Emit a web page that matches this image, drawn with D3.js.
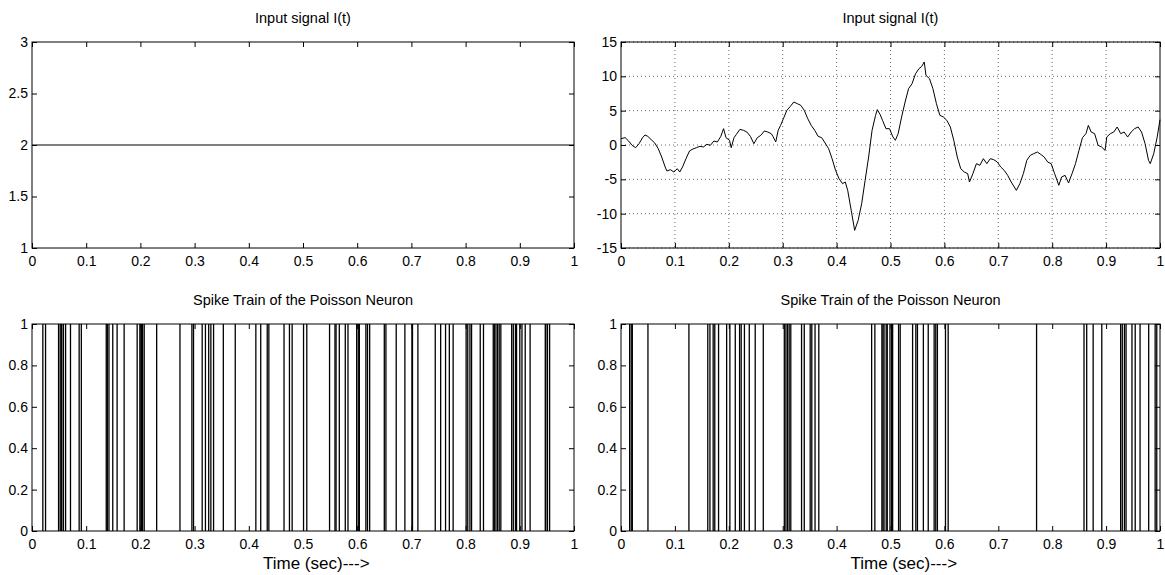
<!DOCTYPE html>
<html><head><meta charset="utf-8">
<script src="https://cdn.jsdelivr.net/npm/d3@7"></script>
<style>
html,body{margin:0;padding:0;background:#fff;}
svg{display:block;}
text{font-family:"Liberation Sans",Arial,Helvetica,sans-serif;fill:#000;}
</style></head>
<body>
<svg id="chart" width="1165" height="575"></svg>
<script>
// ---- data ----
const xTicks = [0,0.1,0.2,0.3,0.4,0.5,0.6,0.7,0.8,0.9,1];
const xTickLabels = ["0","0.1","0.2","0.3","0.4","0.5","0.6","0.7","0.8","0.9","1"];
const constYTicks = [1,1.5,2,2.5,3];
const constYTickLabels = ["1","1.5","2","2.5","3"];
const sigYTicks = [-15,-10,-5,0,5,10,15];
const sigYTickLabels = ["-15","-10","-5","0","5","10","15"];
const spikeYTicks = [0,0.2,0.4,0.6,0.8,1];
const spikeYTickLabels = ["0","0.2","0.4","0.6","0.8","1"];

const constT = [0, 1];
const constV = [2, 2];

const signalT = [0,0.0077,0.0142,0.0206,0.0271,0.0335,0.040,0.0445,0.0497,0.0561,0.0626,0.069,0.0755,0.0819,0.0852,0.0916,0.0981,0.1045,0.109,0.1142,0.1206,0.1271,0.1335,0.140,0.1465,0.1529,0.1594,0.1658,0.1723,0.1787,0.1852,0.1903,0.1948,0.2013,0.2045,0.2097,0.2142,0.2206,0.2271,0.2335,0.240,0.2465,0.2529,0.2594,0.2658,0.2723,0.2787,0.2819,0.2871,0.2916,0.2961,0.3013,0.3077,0.3142,0.3206,0.3271,0.3335,0.340,0.3465,0.3529,0.3594,0.3658,0.3723,0.3787,0.3852,0.3916,0.3981,0.4045,0.411,0.4161,0.4206,0.4271,0.4335,0.44,0.4465,0.4529,0.4594,0.4658,0.4723,0.4755,0.4806,0.4852,0.4916,0.4981,0.5045,0.509,0.5142,0.5206,0.5271,0.5335,0.540,0.5465,0.5529,0.5581,0.5626,0.5658,0.5723,0.5787,0.5852,0.5916,0.5981,0.6045,0.611,0.6174,0.6239,0.6303,0.6368,0.6432,0.6465,0.6529,0.6594,0.6658,0.6723,0.6787,0.6852,0.6916,0.6981,0.7045,0.711,0.7174,0.7239,0.7335,0.74,0.7465,0.7529,0.7594,0.7658,0.7723,0.7787,0.7852,0.7916,0.7981,0.8045,0.8123,0.8174,0.8239,0.8303,0.8368,0.8432,0.8497,0.8561,0.8626,0.8671,0.8723,0.8787,0.8852,0.8916,0.8981,0.9013,0.9077,0.9142,0.9206,0.9271,0.9335,0.94,0.9465,0.9529,0.9594,0.9658,0.9723,0.9787,0.9819,0.9884,0.9948,1.0];
const signalV = [0.92,1.07,0.58,-0.05,-0.39,0.19,1.07,1.46,1.26,0.78,0.29,-0.53,-1.75,-3.2,-3.79,-3.59,-3.93,-3.45,-3.93,-3.2,-1.99,-0.87,-0.58,-0.39,-0.19,-0.29,0.1,-0.05,0.58,0.44,1.26,2.38,1.07,0.68,-0.39,1.07,1.55,2.28,2.14,1.89,1.26,0.19,1.07,1.41,2.04,1.89,1.65,1.26,0.44,2.14,2.86,3.83,5.05,5.63,6.26,6.02,5.78,5.05,3.83,2.86,2.14,1.26,1.07,0.29,-0.53,-1.99,-3.69,-4.9,-5.63,-5.39,-6.6,-9.51,-12.43,-10.97,-8.54,-5.15,-1.75,2.14,4.32,5.15,4.47,3.59,2.38,2.38,1.17,0.68,1.65,4.08,6.26,8.2,8.93,10.39,11.12,11.46,12.09,10.15,9.66,8.2,6.02,4.32,4.08,3.59,2.62,0.68,-1.75,-3.45,-3.93,-4.17,-5.39,-4.17,-2.72,-2.96,-1.99,-2.72,-1.99,-2.14,-2.48,-3.2,-3.69,-4.42,-5.39,-6.6,-5.63,-4.17,-2.23,-1.5,-1.26,-1.02,-1.36,-1.75,-2.48,-2.72,-4.17,-5.87,-4.66,-4.42,-5.53,-4.17,-2.72,-0.78,1.07,1.65,2.86,1.89,1.65,-0.05,-0.29,-0.78,1.17,1.65,1.89,2.62,1.65,1.89,1.17,1.89,2.38,2.62,1.89,0.19,-2.23,-2.72,-1.26,1.17,3.69];

const spikesLeft = [0.020,0.025,0.049,0.052,0.054,0.055,0.058,0.062,0.071,0.087,0.091,0.137,0.139,0.142,0.149,0.157,0.170,0.194,0.199,0.201,0.202,0.204,0.207,0.230,0.273,0.295,0.298,0.314,0.320,0.326,0.330,0.335,0.353,0.375,0.413,0.422,0.434,0.437,0.465,0.475,0.480,0.501,0.507,0.549,0.559,0.561,0.567,0.578,0.583,0.599,0.602,0.604,0.616,0.619,0.623,0.650,0.653,0.672,0.688,0.701,0.702,0.712,0.744,0.754,0.763,0.770,0.777,0.801,0.804,0.808,0.811,0.827,0.833,0.851,0.853,0.856,0.859,0.862,0.865,0.885,0.888,0.892,0.894,0.900,0.904,0.910,0.919,0.947,0.948,0.951,0.955];
const spikesRight = [0.016,0.019,0.021,0.050,0.126,0.161,0.165,0.171,0.174,0.181,0.196,0.202,0.212,0.220,0.223,0.229,0.238,0.249,0.264,0.303,0.306,0.309,0.312,0.315,0.335,0.340,0.351,0.354,0.360,0.367,0.465,0.471,0.484,0.486,0.488,0.492,0.494,0.499,0.502,0.504,0.515,0.518,0.541,0.547,0.550,0.561,0.570,0.581,0.584,0.587,0.602,0.607,0.771,0.859,0.864,0.876,0.892,0.927,0.930,0.934,0.937,0.948,0.954,0.963,0.979,0.991,0.994];

const titles = ["Input signal I(t)","Input signal I(t)","Spike Train of the Poisson Neuron","Spike Train of the Poisson Neuron"];
const xLabel = "Time (sec)--->";

// ---- layout ----
const svg = d3.select("#chart");
const cols = [[32,574],[621,1160]];
const rows = [[42,248],[324,531]];
const TICK = 5;

function panel(col,row,yDomain,yTicks,yLabels,opts){
  const [x0,x1] = cols[col], [y0,y1] = rows[row];
  const x = d3.scaleLinear().domain([0,1]).range([x0,x1]);
  const y = d3.scaleLinear().domain(yDomain).range([y1,y0]);
  const g = svg.append("g");
  if(opts.grid){
    const gg = g.append("g").attr("stroke","#444").attr("stroke-width",0.8).attr("stroke-dasharray","1,3");
    gg.selectAll("line.vx").data(xTicks.slice(1,-1)).join("line")
      .attr("x1",d=>x(d)).attr("x2",d=>x(d)).attr("y1",y0).attr("y2",y1);
    gg.selectAll("line.hy").data(yTicks).join("line")
      .attr("x1",x0).attr("x2",x1).attr("y1",d=>y(d)).attr("y2",d=>y(d));
  }
  opts.draw(g,x,y);
  const fmtX = d=>xTickLabels[xTicks.indexOf(d)];
  const fmtY = d=>yLabels[yTicks.indexOf(d)];
  g.append("g").attr("transform",`translate(0,${y1})`)
    .call(d3.axisBottom(x).tickValues(xTicks).tickFormat(fmtX).tickSizeInner(-TICK).tickSizeOuter(0).tickPadding(8));
  g.append("g").attr("transform",`translate(0,${y0})`)
    .call(d3.axisTop(x).tickValues(xTicks).tickFormat("").tickSizeInner(-TICK).tickSizeOuter(0));
  g.append("g").attr("transform",`translate(${x0},0)`)
    .call(d3.axisLeft(y).tickValues(yTicks).tickFormat(fmtY).tickSizeInner(-TICK).tickSizeOuter(0).tickPadding(4));
  g.append("g").attr("transform",`translate(${x1},0)`)
    .call(d3.axisRight(y).tickValues(yTicks).tickFormat("").tickSizeInner(-TICK).tickSizeOuter(0));
  g.selectAll(".domain").remove();
  g.selectAll(".tick line").attr("stroke","#000");
  g.selectAll(".tick text").attr("font-size",14).attr("fill","#000")
    .attr("font-family","'Liberation Sans',Arial,sans-serif");
  g.append("rect").attr("x",x0).attr("y",y0).attr("width",x1-x0).attr("height",y1-y0)
    .attr("fill","none").attr("stroke","#000").attr("stroke-width",1);
  g.append("text").attr("x",(x0+x1)/2).attr("y",y0-19).attr("text-anchor","middle")
    .attr("font-size",14.5).text(opts.title);
  if(opts.xlabel){
    g.append("text").attr("x",(x0+x1)/2 - 40).attr("y",y1+38).attr("text-anchor","start")
      .attr("font-size",17).text(opts.xlabel);
  }
}

function lineDraw(T,V){
  return (g,x,y)=>{
    const pts = T.map((t,i)=>[t,V[i]]);
    g.append("path").datum(pts).attr("fill","none").attr("stroke","#000").attr("stroke-width",1)
      .attr("d",d3.line().x(d=>x(d[0])).y(d=>y(d[1])));
  };
}
function spikeDraw(S){
  return (g,x,y)=>{
    g.append("g").selectAll("line").data(S).join("line")
      .attr("x1",d=>x(d)).attr("x2",d=>x(d)).attr("y1",y(0)).attr("y2",y(1))
      .attr("stroke","#000").attr("stroke-width",1.3);
  };
}

panel(0,0,[1,3],constYTicks,constYTickLabels,{title:titles[0],draw:lineDraw(constT,constV)});
panel(1,0,[-15,15],sigYTicks,sigYTickLabels,{title:titles[1],grid:true,draw:lineDraw(signalT,signalV)});
panel(0,1,[0,1],spikeYTicks,spikeYTickLabels,{title:titles[2],xlabel:xLabel,draw:spikeDraw(spikesLeft)});
panel(1,1,[0,1],spikeYTicks,spikeYTickLabels,{title:titles[3],xlabel:xLabel,draw:spikeDraw(spikesRight)});
</script>
</body></html>
